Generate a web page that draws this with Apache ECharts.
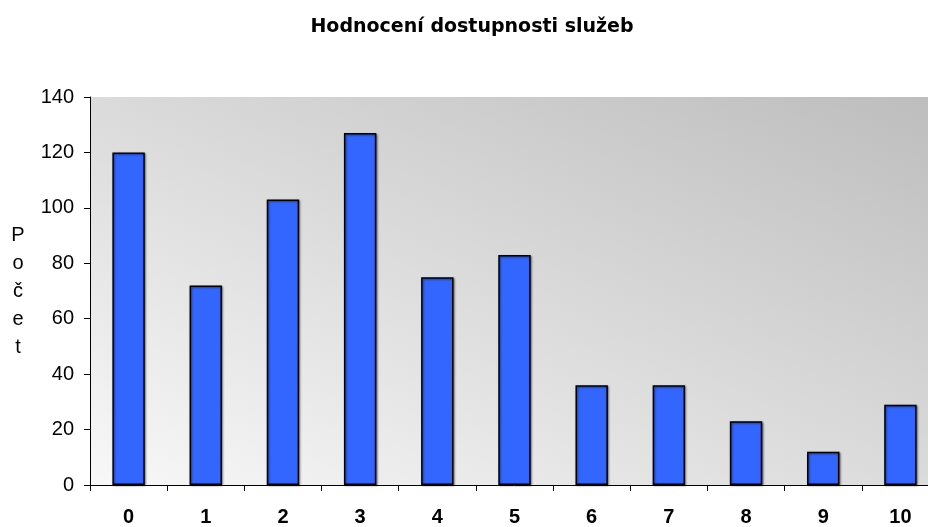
<!DOCTYPE html>
<html>
<head>
<meta charset="utf-8">
<script src="https://cdn.jsdelivr.net/npm/echarts@6/dist/echarts.min.js"></script>
<style>html,body{margin:0;padding:0;background:#fff;overflow:hidden;width:928px;height:527px}#c{width:940px;height:527px}</style>
</head>
<body>
<div id="c"></div>
<script>
const categories = ['0','1','2','3','4','5','6','7','8','9','10'];
const values = [120, 72, 103, 127, 75, 83, 36, 36, 23, 12, 29];
const yTicks = {min: 0, max: 140, interval: 20};
const titleText = 'Hodnocení dostupnosti služeb';
const yName = 'Počet';

const chart = echarts.init(document.getElementById('c'));
chart.setOption({
  animation: false,
  title: {
    text: titleText, left: 467, textAlign: 'center', top: 13,
    textStyle: {fontFamily: 'DejaVu Sans', fontSize: 19, fontWeight: 'bold', color: '#000'}
  },
  grid: {
    left: 90, right: 1, top: 97, bottom: 42, show: true, borderWidth: 0,
    backgroundColor: {
      type: 'linear', x: 0, y: 1, x2: 0.346, y2: -0.654,
      colorStops: [{offset: 0, color: '#f8f8f8'}, {offset: 1, color: '#bdbdbd'}]
    }
  },
  xAxis: {
    type: 'category', data: categories, boundaryGap: true,
    axisLine: {lineStyle: {color: '#000', width: 1}},
    axisTick: {show: true, length: 6, inside: false, lineStyle: {color: '#000'}},
    axisLabel: {color: '#000', fontFamily: 'Liberation Sans, Arial', fontSize: 20, fontWeight: 'bold', margin: 22}
  },
  yAxis: {
    type: 'value', min: yTicks.min, max: yTicks.max, interval: yTicks.interval,
    name: yName.split('').join('\n'), nameLocation: 'middle', nameGap: 72, nameRotate: 0,
    nameTextStyle: {color: '#000', fontFamily: 'Liberation Sans, Arial', fontSize: 20, lineHeight: 28, align: 'center'},
    axisLine: {show: true, lineStyle: {color: '#000', width: 1}},
    axisTick: {show: true, length: 6, lineStyle: {color: '#000'}},
    splitLine: {show: false},
    axisLabel: {color: '#000', fontFamily: 'Liberation Sans, Arial', fontSize: 20, margin: 16}
  },
  series: [{
    type: 'bar', data: values, barWidth: '42%',
    itemStyle: {color: '#3366ff', borderColor: '#000', borderWidth: 1.5,
      shadowColor: 'rgba(0,0,0,0.45)', shadowBlur: 2, shadowOffsetX: 1, shadowOffsetY: 1}
  }]
});
</script>
</body>
</html>
